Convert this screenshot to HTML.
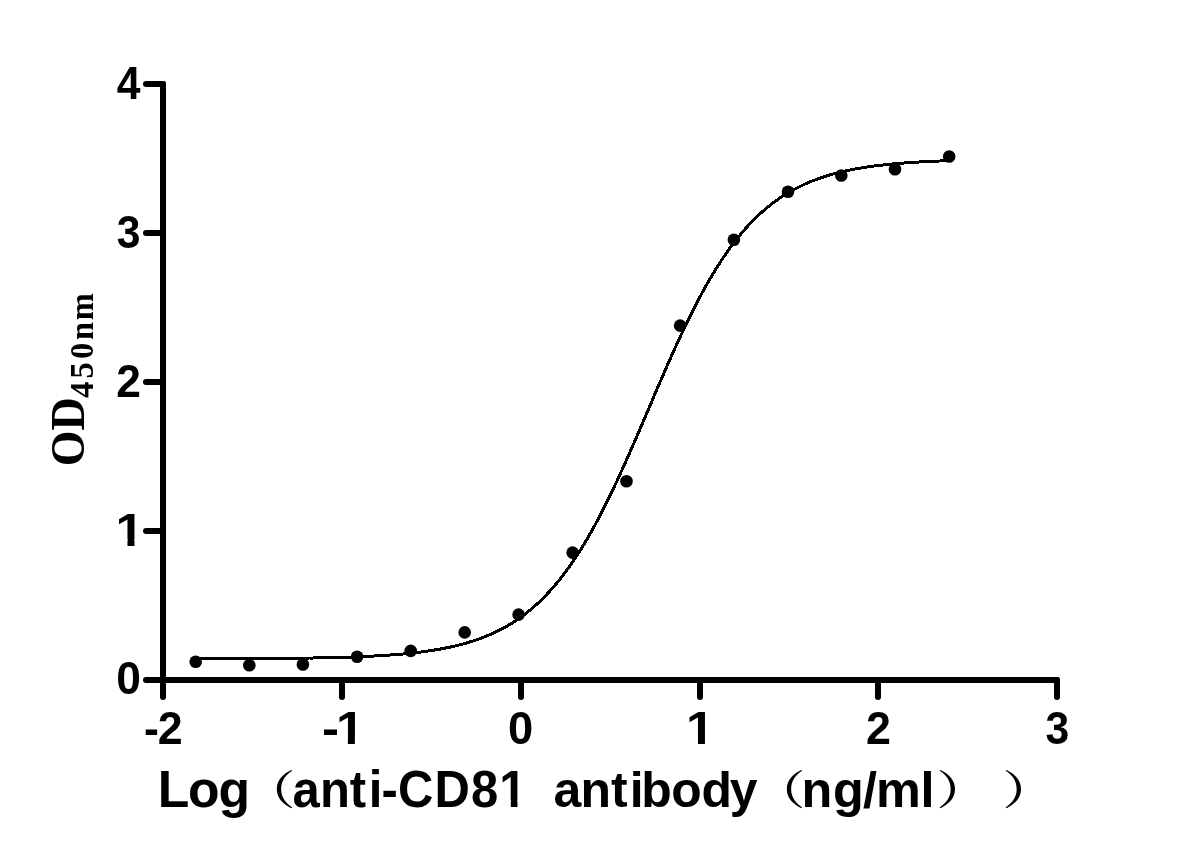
<!DOCTYPE html>
<html lang="en">
<head>
<meta charset="utf-8">
<title>anti-CD81 antibody binding curve</title>
<style>
html,body{margin:0;padding:0;background:#fff;}
body{width:1194px;height:863px;overflow:hidden;}
svg{display:block;}
.tick{font-family:"Liberation Sans",sans-serif;font-weight:bold;font-size:42.67px;fill:#000;}
.xl{font-family:"Liberation Sans",sans-serif;font-weight:bold;font-size:50px;fill:#000;}
.par{font-family:"Noto Serif CJK SC","Noto Sans CJK SC",serif;font-weight:600;font-size:48px;fill:#000;}
.yl{font-family:"Liberation Serif",serif;font-weight:bold;fill:#000;}
</style>
</head>
<body>
<svg width="1194" height="863" viewBox="0 0 1194 863">
<rect width="1194" height="863" fill="#fff"/>
<g stroke="#000" stroke-width="6" stroke-linecap="round" fill="none">
<line x1="163" y1="84" x2="163" y2="680"/>
<line x1="163" y1="680" x2="1057" y2="680"/>
<line x1="163" y1="680" x2="163" y2="697"/>
<line x1="342" y1="680" x2="342" y2="697"/>
<line x1="521" y1="680" x2="521" y2="697"/>
<line x1="700" y1="680" x2="700" y2="697"/>
<line x1="878" y1="680" x2="878" y2="697"/>
<line x1="1057" y1="680" x2="1057" y2="697"/>
<line x1="146" y1="680" x2="163" y2="680"/>
<line x1="146" y1="531" x2="163" y2="531"/>
<line x1="146" y1="382" x2="163" y2="382"/>
<line x1="146" y1="233" x2="163" y2="233"/>
<line x1="146" y1="84" x2="163" y2="84"/>
</g>
<path d="M195.7 658.8 L198.7 658.8 L201.7 658.8 L204.7 658.7 L207.7 658.7 L210.7 658.7 L213.7 658.7 L216.7 658.7 L219.7 658.7 L222.7 658.7 L225.7 658.7 L228.7 658.7 L231.7 658.7 L234.7 658.7 L237.7 658.6 L240.7 658.6 L243.7 658.6 L246.7 658.6 L249.7 658.6 L252.7 658.6 L255.7 658.6 L258.7 658.5 L261.7 658.5 L264.7 658.5 L267.7 658.5 L270.7 658.5 L273.7 658.4 L276.7 658.4 L279.7 658.4 L282.7 658.3 L285.7 658.3 L288.7 658.3 L291.7 658.3 L294.7 658.2 L297.7 658.2 L300.7 658.1 L303.7 658.1 L306.7 658.1 L309.7 658.0 L312.7 658.0 L315.7 657.9 L318.7 657.8 L321.7 657.8 L324.7 657.7 L327.7 657.7 L330.7 657.6 L333.7 657.5 L336.7 657.4 L339.7 657.4 L342.7 657.3 L345.7 657.2 L348.7 657.1 L351.7 657.0 L354.7 656.9 L357.7 656.7 L360.7 656.6 L363.7 656.5 L366.7 656.4 L369.7 656.2 L372.7 656.1 L375.7 655.9 L378.7 655.7 L381.7 655.6 L384.7 655.4 L387.7 655.2 L390.7 654.9 L393.7 654.7 L396.7 654.5 L399.7 654.2 L402.7 654.0 L405.7 653.7 L408.7 653.4 L411.7 653.1 L414.7 652.7 L417.7 652.4 L420.7 652.0 L423.7 651.6 L426.7 651.2 L429.7 650.8 L432.7 650.3 L435.7 649.8 L438.7 649.3 L441.7 648.8 L444.7 648.2 L447.7 647.6 L450.7 647.0 L453.7 646.3 L456.7 645.6 L459.7 644.8 L462.7 644.1 L465.7 643.2 L468.7 642.3 L471.7 641.4 L474.7 640.4 L477.7 639.4 L480.7 638.3 L483.7 637.2 L486.7 636.0 L489.7 634.7 L492.7 633.4 L495.7 632.0 L498.7 630.6 L501.7 629.0 L504.7 627.4 L507.7 625.7 L510.7 623.9 L513.7 622.0 L516.7 620.1 L519.7 618.0 L522.7 615.8 L525.7 613.6 L528.7 611.2 L531.7 608.7 L534.7 606.1 L537.7 603.4 L540.7 600.6 L543.7 597.6 L546.7 594.5 L549.7 591.3 L552.7 587.9 L555.7 584.4 L558.7 580.8 L561.7 577.0 L564.7 573.1 L567.7 569.0 L570.7 564.8 L573.7 560.4 L576.7 555.9 L579.7 551.2 L582.7 546.4 L585.7 541.4 L588.7 536.2 L591.7 530.9 L594.7 525.5 L597.7 519.9 L600.7 514.2 L603.7 508.4 L606.7 502.4 L609.7 496.3 L612.7 490.0 L615.7 483.7 L618.7 477.2 L621.7 470.6 L624.7 464.0 L627.7 457.2 L630.7 450.4 L633.7 443.6 L636.7 436.6 L639.7 429.7 L642.7 422.7 L645.7 415.6 L648.7 408.6 L651.7 401.6 L654.7 394.5 L657.7 387.5 L660.7 380.6 L663.7 373.6 L666.7 366.8 L669.7 360.0 L672.7 353.2 L675.7 346.6 L678.7 340.0 L681.7 333.6 L684.7 327.2 L687.7 321.0 L690.7 314.9 L693.7 308.9 L696.7 303.1 L699.7 297.4 L702.7 291.8 L705.7 286.4 L708.7 281.1 L711.7 276.0 L714.7 271.0 L717.7 266.2 L720.7 261.5 L723.7 257.0 L726.7 252.6 L729.7 248.4 L732.7 244.3 L735.7 240.4 L738.7 236.7 L741.7 233.0 L744.7 229.5 L747.7 226.2 L750.7 223.0 L753.7 219.9 L756.7 216.9 L759.7 214.1 L762.7 211.4 L765.7 208.8 L768.7 206.3 L771.7 204.0 L774.7 201.7 L777.7 199.6 L780.7 197.5 L783.7 195.5 L786.7 193.7 L789.7 191.9 L792.7 190.2 L795.7 188.6 L798.7 187.1 L801.7 185.6 L804.7 184.2 L807.7 182.9 L810.7 181.6 L813.7 180.4 L816.7 179.3 L819.7 178.2 L822.7 177.2 L825.7 176.2 L828.7 175.3 L831.7 174.4 L834.7 173.6 L837.7 172.8 L840.7 172.1 L843.7 171.4 L846.7 170.7 L849.7 170.1 L852.7 169.5 L855.7 168.9 L858.7 168.4 L861.7 167.9 L864.7 167.4 L867.7 166.9 L870.7 166.5 L873.7 166.1 L876.7 165.7 L879.7 165.3 L882.7 165.0 L885.7 164.6 L888.7 164.3 L891.7 164.0 L894.7 163.7 L897.7 163.5 L900.7 163.2 L903.7 163.0 L906.7 162.8 L909.7 162.6 L912.7 162.4 L915.7 162.2 L918.7 162.0 L921.7 161.8 L924.7 161.7 L927.7 161.5 L930.7 161.4 L933.7 161.2 L936.7 161.1 L939.7 161.0 L942.7 160.9 L945.7 160.7 L948.7 160.6 L949.2 160.6" fill="none" stroke="#000" stroke-width="3" stroke-linejoin="round" shape-rendering="crispEdges"/>
<g fill="#000">
<circle cx="195.7" cy="661.8" r="6.3"/>
<circle cx="249.3" cy="665.3" r="6.3"/>
<circle cx="302.9" cy="664.5" r="6.3"/>
<circle cx="357.1" cy="656.8" r="6.3"/>
<circle cx="410.7" cy="650.9" r="6.3"/>
<circle cx="464.7" cy="632.4" r="6.3"/>
<circle cx="518.6" cy="614.6" r="6.3"/>
<circle cx="572.6" cy="552.6" r="6.3"/>
<circle cx="626.5" cy="481.2" r="6.3"/>
<circle cx="680.1" cy="325.6" r="6.3"/>
<circle cx="733.9" cy="239.8" r="6.3"/>
<circle cx="788" cy="191.8" r="6.3"/>
<circle cx="841.3" cy="175.5" r="6.3"/>
<circle cx="895" cy="169.3" r="6.3"/>
<circle cx="949.2" cy="156.5" r="6.3"/>
</g>
<g class="tick">
<text transform="translate(0 743.60) scale(1.0500 1.0900)" x="137.24 150.24">-2</text>
<text transform="translate(0 743.60) scale(1.2000 1.0900)" x="268.33 279.92">-1</text>
<text transform="translate(0 743.60) scale(1.0600 1.0900)" x="479.27">0</text>
<text transform="translate(0 743.60) scale(1.2000 1.0900)" x="571.67">1</text>
<text transform="translate(0 743.60) scale(1.0500 1.0900)" x="824.73">2</text>
<text transform="translate(0 743.60) scale(1.0000 1.0900)" x="1045.53">3</text>
<text transform="translate(140.90 693.70) scale(1.0400 1.0900)" text-anchor="end">0</text>
<text transform="translate(0 545.60) scale(1.2000 1.0900)" x="96.25">1</text>
<text transform="translate(140.90 396.60) scale(1.0400 1.0900)" text-anchor="end">2</text>
<text transform="translate(140.50 247.60) scale(1.0000 1.0900)" text-anchor="end">3</text>
<text transform="translate(140.50 98.60) scale(1.0000 1.0900)" text-anchor="end">4</text>
</g>
<g>
<text class="xl" transform="translate(0 807.00) scale(1.0343 1.0200)" x="152.53 181.86 211.17">Log</text>
<text transform="translate(243.00 805.00) scale(1.0900 0.8450)" class="par">（</text>
<text class="xl" transform="translate(0 807.00) scale(0.9803 1.0200)" x="298.48 326.52 356.88 376.23 389.29 405.92 443.13 480.37 509.38">anti-CD81</text>
<text class="xl" transform="translate(0 807.00) scale(0.9985 0.9920)" x="554.22 581.39 611.97 630.80 642.26 672.33 702.65 730.87">antibody</text>
<text transform="translate(753.00 805.00) scale(1.0900 0.8450)" class="par">（</text>
<text class="xl" transform="translate(0 807.00) scale(1.0081 0.9920)" x="795.04 826.34 856.14 868.93 913.10">ng/ml</text>
<text transform="translate(936.50 804.50) scale(1.0900 0.8450)" class="par">）</text>
<text transform="translate(1002.50 804.50) scale(1.0900 0.8450)" class="par">）</text>
</g>
<g fill="#fff">
<rect x="338.13" y="737.25" width="9.73" height="7.55"/>
<rect x="354.88" y="737.25" width="9.08" height="7.55"/>
<rect x="688.23" y="737.25" width="9.73" height="7.55"/>
<rect x="704.98" y="737.25" width="9.08" height="7.55"/>
<rect x="117.73" y="539.25" width="9.73" height="7.55"/>
<rect x="134.48" y="539.25" width="9.08" height="7.55"/>
<rect x="501.42" y="800.20" width="9.35" height="8.00"/>
<rect x="517.50" y="800.20" width="8.73" height="8.00"/>
</g>
<g class="yl" transform="translate(83.5 466.3) rotate(-90) scale(1.0 1.05)">
<text x="0" y="0" font-size="46">OD</text>
<text x="68.3 87.75 107.2 126.2 146.0" y="8.9" font-size="32.5">450nm</text>
</g>
</svg>
</body>
</html>
